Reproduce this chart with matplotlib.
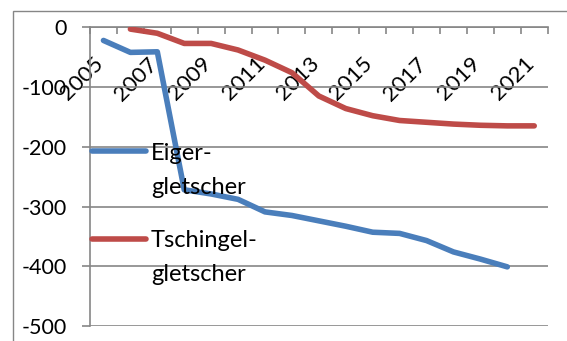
import matplotlib
matplotlib.use("Agg")
import matplotlib.pyplot as plt
import numpy as np
from matplotlib.lines import Line2D
from matplotlib.patches import Rectangle
from matplotlib.transforms import ScaledTranslation

plt.rcParams['font.family'] = ['Lato', 'DejaVu Sans']

years = list(range(2005, 2022))
eiger = [-22, -42, -41, -272, -279, -288, -309, -315, -324, -333, -343, -345, -357, -376, -388, -401, np.nan]
tschingel = [np.nan, -3, -10, -27, -27, -38, -55, -76, -115, -136, -148, -156, -159, -162, -164, -165, -165]
series_names = ["Eiger-\ngletscher", "Tschingel-\ngletscher"]
yticks = list(range(-500, 1, 100))

blue = '#4A7EBB'
red = '#BE4B48'
gray = '#868686'

W, H = 567, 341
fig = plt.figure(figsize=(W / 100, H / 100), dpi=100)
ax = fig.add_axes([90 / W, 1 - 326 / H, (547.7 - 90) / W, (326 - 27.3) / H])

x = np.arange(len(years))
ax.plot(x, eiger, color=blue, lw=4, solid_capstyle='round', solid_joinstyle='round', zorder=3)
ax.plot(x, tschingel, color=red, lw=4, solid_capstyle='round', solid_joinstyle='round', zorder=3)

ax.set_xlim(-0.5, len(years) - 0.5)
ax.set_ylim(-500, 0)

for s in ['top', 'right']:
    ax.spines[s].set_visible(False)
ax.spines['bottom'].set_position(('data', 0))
ax.spines['bottom'].set_color(gray)
ax.spines['left'].set_color(gray)
ax.spines['bottom'].set_linewidth(1.2)
ax.spines['left'].set_linewidth(1.2)

ax.set_yticks(yticks)
ax.set_yticklabels([str(v) for v in yticks], fontsize=15.5)
ax.tick_params(axis='y', length=6, width=1.2, color=gray, pad=11)
ax.yaxis.grid(True, color=gray, lw=1.2)
ax.set_axisbelow(True)

# tick marks between categories, labels on every other year
ax.set_xticks(np.arange(-0.5, len(years), 1.0))
ax.set_xticklabels([])
ax.tick_params(axis='x', which='major', direction='out', length=5, width=1.2, color=gray)
ax.set_xticks(x[::2], minor=True)
ax.set_xticklabels([str(y) for y in years[::2]], minor=True, rotation=45,
                   ha='right', va='top', fontsize=16)
ax.tick_params(axis='x', which='minor', length=0, pad=19)
shift = ScaledTranslation(4 / 100, 0, fig.dpi_scale_trans)
for lbl in ax.get_xticklabels(minor=True):
    lbl.set_transform(lbl.get_transform() + shift)

# legend drawn by hand
entries = [(series_names[0], blue, 150.7, 160.0), (series_names[1], red, 239.0, 247.3)]
for label, col, ly, base in entries:
    fig.add_artist(Line2D([92 / W, 146 / W], [1 - ly / H] * 2, transform=fig.transFigure,
                          color=col, lw=4, solid_capstyle='round'))
    for k, line in enumerate(label.split("\n")):
        fig.text(151 / W, 1 - (base + k * 34) / H, line, fontsize=17, va='baseline', ha='left')

# chart area border
fig.add_artist(Rectangle((13.3 / W, -0.5), 2, 0.5 + 1 - 10.7 / H, transform=fig.transFigure,
                         fill=False, ec=gray, lw=1))

fig.savefig("out.png", dpi=100)
